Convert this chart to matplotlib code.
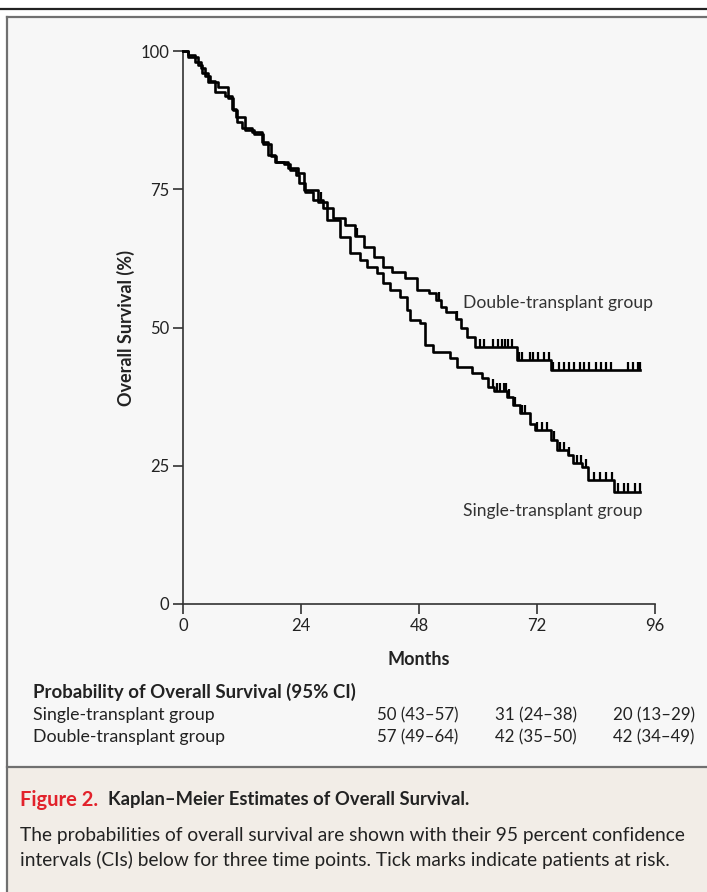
import numpy as np
import matplotlib
matplotlib.use("Agg")
import matplotlib.pyplot as plt
from matplotlib.patches import Rectangle

# Kaplan-Meier step points (months, % surviving)
single_t = [0, 1.0, 3.1, 3.9, 5.1, 7.1, 9.2, 10.2, 11.0, 12.0, 14.1, 16.1, 17.3, 18.7,
            21.4, 23.4, 24.6, 27.5, 29.3, 31.9, 34.0, 36.0, 37.4, 39.5, 40.7, 42.1,
            44.1, 45.5, 46.2, 48.2, 49.2, 50.8, 54.3, 55.7, 58.8, 60.8, 62.0, 63.3,
            65.9, 67.1, 68.5, 70.6, 71.6, 74.8, 76.0, 78.3, 79.4, 81.2, 82.4, 87.7]
single_s = [100, 99, 97.5, 96, 94.4, 93.5, 91.5, 89.3, 87.2, 86, 85.3, 83.5, 81.2, 80,
            78.8, 77.9, 74.9, 72.7, 69.4, 66.4, 63.5, 62.2, 61.0, 59.9, 58.0, 56.8,
            55.5, 53.2, 51.4, 50.8, 46.8, 45.6, 44.5, 42.9, 41.8, 40.9, 39.2, 38.5,
            37.4, 36.0, 34.5, 32.5, 31.5, 29.7, 27.8, 26.9, 25.5, 24.8, 22.4, 20.3]

double_t = [0, 1.0, 2.5, 3.7, 4.5, 5.5, 6.5, 8.5, 10.0, 10.8, 12.6, 14.5, 16.3, 17.8,
            19.0, 20.5, 21.8, 23.0, 23.6, 24.8, 26.5, 28.5, 30.5, 33.0, 35.0, 36.8,
            38.8, 40.7, 42.5, 45.2, 47.6, 50.0, 51.4, 52.5, 53.5, 55.5, 56.5, 57.8,
            59.4, 67.9, 74.8]
double_s = [100, 99.2, 98, 97, 95.5, 94.5, 92.5, 91.8, 89.5, 88, 85.8, 85.0, 83.2, 81.0,
            80.0, 79.5, 78.5, 77.5, 76.2, 74.5, 73.0, 71.6, 69.8, 68.5, 66.5, 64.6,
            62.7, 60.9, 60.0, 59.0, 56.8, 56.2, 55.0, 53.7, 52.8, 51.5, 50.0, 48.3,
            46.5, 44.1, 42.3]

last_t = 93.0

# censoring tick marks (months)
single_cens = [63.0, 63.8, 64.5, 65.2, 65.6, 66.4, 67.5, 68.9, 69.5, 72.0, 73.0, 74.0,
               75.5, 76.7, 77.5, 78.5, 80.2, 81.0, 82.0, 83.6, 84.8, 86.0, 87.3, 88.4,
               89.6, 90.6, 92.0, 93.0]
double_cens = [28.0, 35.3, 52.0, 55.8, 60.4, 61.2, 63.0, 64.1, 64.8, 65.5, 66.2, 66.9,
               68.3, 69.0, 70.6, 71.2, 72.2, 73.5, 74.4, 75.3, 76.5, 77.5, 78.5, 79.5,
               80.7, 81.5, 82.5, 84.0, 85.0, 86.0, 87.0, 90.5, 91.5, 92.5, 93.0]

# table of probabilities at 48, 72, 96 months
table_months = [48, 72, 96]
table_groups = ["Single-transplant group", "Double-transplant group"]
table_values = [["50 (43\u201357)", "31 (24\u201338)", "20 (13\u201329)"],
                ["57 (49\u201364)", "42 (35\u201350)", "42 (34\u201349)"]]

W, H = 707, 892
plt.rcParams['font.family'] = ['Lato', 'DejaVu Sans']
txt = '#222222'

fig = plt.figure(figsize=(W / 100, H / 100), dpi=100)
fig.patch.set_facecolor('white')


def fx(x):
    return x / W


def fy(y):
    return 1 - y / H


# panel backgrounds and frame (behind the axes)
fig.patches.append(Rectangle((fx(7), fy(767)), 1 - fx(7), fy(17) - fy(767), transform=fig.transFigure,
                             facecolor='#f7f7f7', edgecolor='none', zorder=-5))
fig.patches.append(Rectangle((fx(7), 0), 1 - fx(7), fy(767), transform=fig.transFigure,
                             facecolor='#f2ede7', edgecolor='none', zorder=-5))
for xs, ys, col in [([0, 1], [fy(9), fy(9)], '#222222'),
                    ([fx(7), 1], [fy(17), fy(17)], '#707070'),
                    ([fx(7), fx(7)], [0, fy(17)], '#707070'),
                    ([fx(7), 1], [fy(767), fy(767)], '#707070')]:
    ln = plt.Line2D(xs, ys, transform=fig.transFigure, color=col, lw=1.6)
    ln.set_zorder(-4)
    fig.lines.append(ln)

ax = fig.add_axes([fx(183), fy(604), fx(655 - 183), (604 - 51) / H])
ax.set_facecolor('none')
ax.set_zorder(2)


def surv_at(times, surv, t):
    i = np.searchsorted(times, t, side='right') - 1
    return surv[i]


for times, surv, cens in [(single_t, single_s, single_cens), (double_t, double_s, double_cens)]:
    tt = list(times) + [last_t]
    ss = list(surv) + [surv[-1]]
    ax.step(tt, ss, where='post', color='black', lw=1.9, clip_on=False, zorder=3)
    ys = [surv_at(times, surv, c) for c in cens]
    ax.vlines(cens, ys, [y + 1.5 for y in ys], color='black', lw=1.6, zorder=3)

ax.set_xlim(0, 96)
ax.set_ylim(0, 100)
ax.set_xticks([0, 24, 48, 72, 96])
ax.set_yticks([0, 25, 50, 75, 100])
for s in ['top', 'right']:
    ax.spines[s].set_visible(False)
for s in ['left', 'bottom']:
    ax.spines[s].set_color('#333333')
    ax.spines[s].set_linewidth(1.2)
ax.tick_params(direction='out', length=7, width=1.2, color='#333333', labelsize=12,
               labelcolor=txt, pad=3)
ax.set_xlabel('Months', fontsize=13, fontweight='bold', color=txt, labelpad=12)
ax.set_ylabel('Overall Survival (%)', fontsize=13, fontweight='bold', color=txt, labelpad=4)

ax.text(57.0, 54.5, 'Double-transplant group', fontsize=12.6, color='#333333', va='center')
ax.text(57.0, 16.8, 'Single-transplant group', fontsize=12.6, color='#333333', va='center')

# table below
fig.text(fx(33), fy(692), 'Probability of Overall Survival (95% CI)', fontsize=13.4,
         fontweight='bold', color=txt, va='center')
for r, (grp, vals) in enumerate(zip(table_groups, table_values)):
    y = fy(715 + r * 22)
    fig.text(fx(33), y, grp, fontsize=12.8, color=txt, va='center')
    for m, v in zip(table_months, vals):
        xd = ax.transData.transform((m, 0))[0]
        fig.text(xd / W - 0.002, y, v, fontsize=12.2, color=txt, va='center', ha='center')

# caption
fig.text(fx(20), fy(800), 'Figure 2.', fontsize=14.5, fontweight='bold', color='#e2222b', va='center')
fig.text(fx(108), fy(800), 'Kaplan\u2013Meier Estimates of Overall Survival.', fontsize=13.2,
         fontweight='bold', color=txt, va='center')
fig.text(fx(20), fy(835), 'The probabilities of overall survival are shown with their 95 percent confidence',
         fontsize=13.8, color=txt, va='center')
fig.text(fx(20), fy(860), 'intervals (CIs) below for three time points. Tick marks indicate patients at risk.',
         fontsize=13.8, color=txt, va='center')

fig.savefig('out.png', dpi=100, facecolor=fig.get_facecolor())
